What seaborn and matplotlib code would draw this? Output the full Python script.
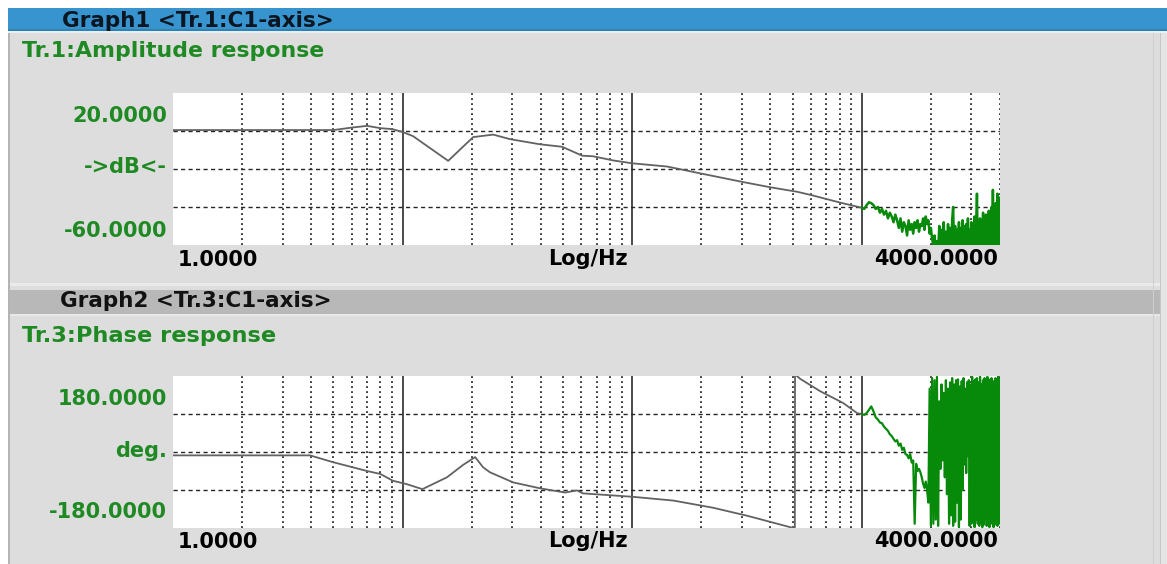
import numpy as np
import pandas as pd
import matplotlib
matplotlib.use("Agg")
import matplotlib.pyplot as plt
from matplotlib.patches import Rectangle
from matplotlib.ticker import FixedLocator, LogLocator
import seaborn as sns

# ---------------- trace data ----------------
# Tr.1 amplitude response, clean part (Hz, dB)
amp_freq = [1, 3, 5, 6, 7, 8, 9, 10, 11.1, 15.8, 20.3, 24.8, 29.4, 39.7, 49.5,
            60.6, 67.6, 82.7, 100, 142, 198, 305, 399, 524, 615, 806, 1000]
amp_db = [0.5, 0.5, 0.5, 1.8, 2.7, 1.5, 1.0, -0.5, -2.7, -15.7, -3.2, -1.9, -4.3,
          -7.0, -8.3, -13.0, -13.3, -15.5, -17.0, -18.7, -22.3, -26.9, -29.6,
          -32.0, -34.0, -37.7, -40.4]

# Tr.3 phase response, clean part (Hz, deg)
ph_freq = [1, 3.95, 4.97, 7.0, 8.0, 9.06, 10.4, 12.2, 15.6, 18.3, 20.7, 22.4, 24.0,
           30.3, 39.7, 51.0, 57.5, 61.0, 100, 151, 225, 317, 503, 511, 512, 540,
           659, 830, 955]
ph_deg = [-8, -8, -24, -45, -52, -68, -76, -88, -60, -31, -12, -36, -48, -72, -86,
          -96, -91, -98, -106, -115, -132, -151, -180, -184, 184, 173, 144, 116, 92]

# high-frequency part, 25 Hz analyser bins from 1000 Hz to 4000 Hz
hf_bins = np.arange(1000, 4001, 25)
amp_hf_db = [
    -40.4, -41, -39, -37.5, -38,
    -39, -41, -40, -43, -41, -44, -42, -46, -43, -45, -48, -44,
    -47, -51, -46, -53, -48, -50, -55, -47, -52, -49, -54, -48,
    -51, -47, -53, -49, -50, -46, -52, -45, -49, -47, -54, -51,
    -57, -60, -55, -62, -58, -64,
    -50, -65, -52, -63, -48, -66, -53, -62, -49, -65,
    -51, -63, -47, -40, -64, -50, -66, -52, -62, -48,
    -65, -51, -63, -47, -66, -50, -62, -49, -65, -46,
    -63, -52, -64, -48, -66, -50, -62, -45, -65, -50,
    -33, -64, -47, -63, -46, -66, -49, -62, -43, -65,
    -48, -63, -44, -64, -46, -66, -42, -62, -45, -65,
    -40, -63, -31, -64, -42, -62, -38, -65, -40, -33,
    -63, -37, -62, -35,
]
ph_hf_deg = [
    90, 88, 92, 100, 108, 96, 82,
    77, 70, 68, 60, 55, 50, 42, 38, 31,
    25, 28, 15, 20, 5, 10, -5, -7,
    -15, -5, -25, -20, -170, -28, -45, -40, -48,
    -60, -75, -85, -70, -90,
    -120, 150, -175, 175, -170, 170, -160, 178, -175, 120,
    -40, 160, -20, 140, -60, 170, -100, 150, -170, 165,
    -150, 175, -175, 160, -165, 170, -120, 172, -178, 155,
    -160, 168, -90, 175, -30, 150, -50, 165, -10, 170,
    -175, 160, -170, 178, -165, 168, -178, 172, -160, 175,
    -170, 165, -175, 178, -168, 160, -178, 170, -172, 175,
    -160, 168, -175, 178, -170, 165, -178, 172, -165, 175,
    -170, 168, -178, 160, -172, 175, -168, 170, -175, 178,
    -165, 172, -170,
]

# ---------------- styling ----------------
sns.set_style("white")
plt.rcParams["font.family"] = ["DejaVu Sans"]
plt.rcParams["path.simplify"] = False  # keep every zig-zag of the noisy traces

W, H = 1167, 564
GREEN_TXT = "#1f8a24"
TRACE = "#626262"
NOISE = "#078a0a"

fig = plt.figure(figsize=(W / 100, H / 100), dpi=100)
fig.patch.set_facecolor("white")


def band(x0, y0, x1, y1, color):
    fig.add_artist(Rectangle((x0 / W, 1 - y1 / H), (x1 - x0) / W, (y1 - y0) / H,
                             transform=fig.transFigure, facecolor=color,
                             edgecolor="none", zorder=0))


def label(x, y, s, ha="left", color="black", size=15, weight="bold"):
    fig.text(x / W, 1 - y / H, s, ha=ha, va="baseline", color=color,
             fontsize=size, fontweight=weight)


# window frame
band(8, 30, W, H, "#dddddd")
band(8, 8, W, 31, "#3794cf")
band(8, 29, W, 31, "#2c82b4")
band(8, 31, W, 33, "#e9eef0")
band(8, 283, W, 286, "#ebebeb")
band(8, 290, W, 314, "#b8b8b8")
band(8, 314, W, 316, "#e8e8e8")
band(8, 33, 10, H, "#b4b4b4")
band(1153, 33, 1154, H, "#cfcfcf")
band(1160, 33, 1161, H, "#c6c6c6")
band(1161, 33, W, H, "#e4e4e4")


def setup(ax, ylim, yticks):
    ax.set_xscale("log")
    ax.set_xlim(1, 4000)
    ax.set_ylim(*ylim)
    ax.set_facecolor("white")
    for s in ax.spines.values():
        s.set_visible(False)
    ax.xaxis.set_major_locator(FixedLocator([10, 100, 1000]))
    ax.xaxis.set_minor_locator(LogLocator(base=10, subs=np.arange(2, 10), numticks=50))
    ax.set_yticks(yticks)
    ax.tick_params(which="both", length=0, labelbottom=False, labelleft=False)
    ax.grid(which="major", axis="x", color="#3c3c3c", lw=1.3, ls="-")
    ax.grid(which="minor", axis="x", color="#1e1e1e", lw=1.2, ls=(0, (1.1, 1.9)))
    ax.grid(which="major", axis="y", color="#262626", lw=1.0, ls=(0, (3.0, 2.4)))
    ax.set_axisbelow(True)


ax1 = fig.add_axes([173 / W, 1 - 245 / H, 827 / W, 152 / H])
ax2 = fig.add_axes([173 / W, 1 - 528 / H, 827 / W, 152 / H])
setup(ax1, (-60, 20), [-40, -20, 0])
setup(ax2, (-180, 180), [-90, 0, 90])

# amplitude trace
sns.lineplot(x=amp_freq, y=amp_db, ax=ax1, color=TRACE, lw=1.3,
             sort=False, estimator=None, legend=False)
sns.lineplot(x=hf_bins, y=amp_hf_db, ax=ax1, color=NOISE, lw=1.8,
             sort=False, estimator=None, legend=False)

# phase trace (joined to the high-frequency part)
sns.lineplot(x=ph_freq + [hf_bins[0]], y=ph_deg + [ph_hf_deg[0]], ax=ax2,
             color=TRACE, lw=1.3, sort=False, estimator=None, legend=False)
sns.lineplot(x=hf_bins, y=ph_hf_deg, ax=ax2, color=NOISE, lw=1.6,
             sort=False, estimator=None, legend=False)
for ax in (ax1, ax2):
    ax.set_xlabel("")
    ax.set_ylabel("")

# header texts
label(62, 27, "Graph1 <Tr.1:C1-axis>", color="#0c1620", size=15.5)
label(22, 57, "Tr.1:Amplitude response", color=GREEN_TXT, size=15.8)
label(60, 307, "Graph2 <Tr.3:C1-axis>", color="#111111", size=15.5)
label(22, 342, "Tr.3:Phase response", color=GREEN_TXT, size=16.2)

# value scale texts
label(167, 122, "20.0000", ha="right", color=GREEN_TXT)
label(167, 173, "->dB<-", ha="right", color=GREEN_TXT)
label(167, 237, "-60.0000", ha="right", color=GREEN_TXT)
label(167, 405, "180.0000", ha="right", color=GREEN_TXT)
label(167, 457, "deg.", ha="right", color=GREEN_TXT)
label(167, 518, "-180.0000", ha="right", color=GREEN_TXT)

# frequency scale texts
for base in (266, 548):
    label(178, base, "1.0000")
    label(588, base - 1, "Log/Hz", ha="center")
    label(998, base - 1, "4000.0000", ha="right")

fig.savefig("out.png", dpi=100, facecolor=fig.get_facecolor())
